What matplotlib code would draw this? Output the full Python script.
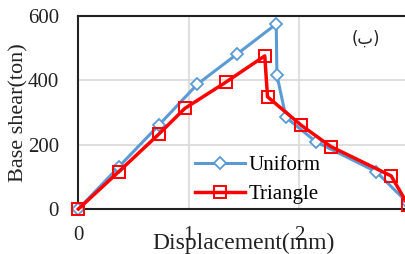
import numpy as np
import matplotlib
matplotlib.use("Agg")
import matplotlib.pyplot as plt

# pushover curves
uni_x = [0, 0.366, 0.73, 1.079, 1.436, 1.794, 1.80, 1.882, 2.155, 2.70, 2.99]
uni_y = [0, 131, 261, 388, 481, 575, 417, 285, 209, 116, 18]
tri_x = [0, 0.366, 0.73, 0.966, 1.336, 1.69, 1.715, 2.018, 2.29, 2.836, 2.99]
tri_y = [0, 116, 233, 313, 394, 476, 349, 261, 194, 103, 12]

x_ticks = [0, 1, 2, 3]
y_ticks = [0, 200, 400, 600]

plt.rcParams['font.family'] = ['Liberation Serif', 'DejaVu Sans']

fig = plt.figure(figsize=(4.06, 2.54), dpi=100)
ax = fig.add_axes([0.193, 0.177, 0.815, 0.76])

ax.plot(uni_x, uni_y, color='#5B9BD5', lw=2.2, marker='D', ms=6.5,
        mfc='white', mec='#5B9BD5', mew=1.3, label='Uniform', zorder=3,
        clip_on=False)
ax.plot(tri_x, tri_y, color='#FF0000', lw=2.5, marker='s', ms=9,
        mfc='none', mec='#FF0000', mew=1.4, label='Triangle', zorder=4,
        clip_on=False)

ax.set_xlim(0, 3)
ax.set_ylim(0, 600)
ax.set_xticks(x_ticks)
ax.set_yticks(y_ticks)
ax.tick_params(length=0, labelsize=15, colors='#222222')
ax.tick_params(axis='x', pad=12)
ax.tick_params(axis='y', pad=14)
ax.grid(True, color='#D9D9D9', lw=1.2)
ax.set_axisbelow(True)
for s in ['left', 'bottom', 'top', 'right']:
    ax.spines[s].set_color('#222222')
    ax.spines[s].set_linewidth(1.5)

# label overlaps the tick labels, as in the original
ax.set_xlabel('Displacement(mm)', fontsize=17, color='#222222')
ax.xaxis.set_label_coords(0.5, -0.125)
ax.set_ylabel('Base shear(ton)', fontsize=16, color='#222222')
ax.yaxis.set_label_coords(-0.15, 0.5)

ax.legend(loc='lower left', bbox_to_anchor=(0.32, -0.03), frameon=False,
          fontsize=15, handlelength=2.4, handletextpad=0.2, labelspacing=0.45,
          borderaxespad=0.1)

ax.text(0.87, 0.88, '(ب)', transform=ax.transAxes, fontsize=12,
        family='DejaVu Sans', ha='center', va='center', color='#222222')

fig.savefig('out.png', dpi=100)
